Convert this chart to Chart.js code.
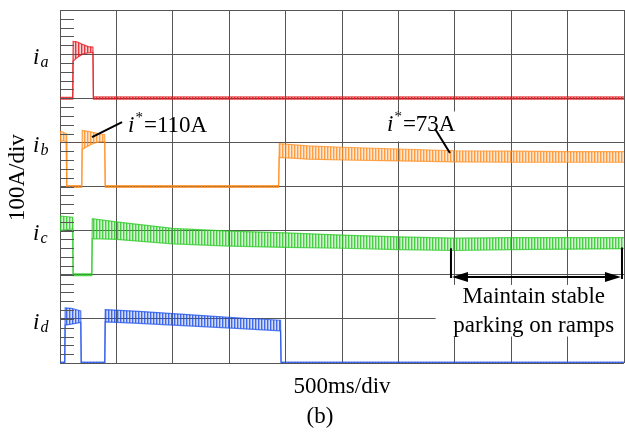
<!DOCTYPE html>
<html lang="en">
<head>
<meta charset="UTF-8">
<title>Phase currents</title>
<script src="https://cdn.jsdelivr.net/npm/chart.js@4"></script>
<style>
  html, body { margin: 0; padding: 0; background: #fff; }
  canvas { display: block; }
</style>
</head>
<body>
<canvas id="scope" width="625" height="432"></canvas>
<script>
// --- data: time in ms, current envelope (upper / lower) in A ---
const iaT  = [0, 113, 116, 150, 200, 250, 292, 296, 1000, 2000, 3000, 4000, 5000];
const iaHi = [2, 2, 129, 128, 122, 117, 116, 3, 3, 3, 3, 3, 3];
const iaLo = [-2, -2, 84, 92, 100, 103, 104, -2, -2, -2, -2, -2, -2];

const ibT  = [0, 20, 55, 60, 193, 197, 250, 300, 350, 396, 401, 1000, 1938, 1944, 2200, 2500, 3000, 3500, 4000, 4500, 5000];
const ibHi = [125, 124, 120, 2, 2, 127, 125, 122, 119, 118, 2, 2, 2, 97, 92, 89, 85, 81, 80, 79, 79];
const ibLo = [100, 104, 102, -2, -2, 84, 92, 98, 101, 102, -2, -2, -2, 66, 62, 60, 58, 56, 55, 55, 55];

const icT  = [0, 50, 113, 116, 282, 286, 500, 1000, 1500, 2000, 2500, 3000, 3500, 4000, 4500, 5000];
const icHi = [133, 132, 130, 2, 2, 127, 120, 105, 99, 95, 90, 86, 83, 84, 84, 84];
const icLo = [100, 102, 104, -2, -2, 82, 80, 70, 65, 62, 60, 57, 55, 57, 58, 59];

const idT  = [0, 42, 46, 100, 184, 188, 397, 401, 700, 1000, 1300, 1600, 1955, 1960, 5000];
const idHi = [2, 2, 125, 124, 118, 2, 2, 121, 117, 112, 107, 102, 97, 2, 2];
const idLo = [0, 0, 86, 88, 92, 0, 0, 93, 90, 86, 82, 78, 73, 0, 0];

// channel zero levels (in divisions from the bottom)
const channelNames = ['a', 'b', 'c', 'd'];
const channelZero  = [6, 4, 2, 0];

const ampsPerDiv = 100;
const msPerDiv = 500;

const serif = '"Liberation Serif", "DejaVu Serif", serif';

function pts(T, A, zero) {
    return T.map((t, i) => ({ x: t, y: zero + A[i] / ampsPerDiv }));
}

// hatched fill so the bands look like a rippled trace
function hatch(rgb) {
    const c = document.createElement('canvas');
    c.width = 3; c.height = 4;
    const g = c.getContext('2d');
    g.fillStyle = 'rgba(' + rgb + ',0.85)'; g.fillRect(0, 0, 1, 4);
    g.fillStyle = 'rgba(' + rgb + ',0.45)'; g.fillRect(1, 0, 1, 4);
    g.fillStyle = 'rgba(' + rgb + ',0.2)';  g.fillRect(2, 0, 1, 4);
    return g.createPattern(c, 'repeat');
}

function band(T, hi, lo, zero, rgb) {
    const edge = 'rgba(' + rgb + ',0.75)';
    return [
        { data: pts(T, lo, zero), borderColor: edge, borderWidth: 1.2, fill: false },
        { data: pts(T, hi, zero), borderColor: edge, borderWidth: 1.2, fill: '-1',
          backgroundColor: hatch(rgb) }
    ];
}

const datasets = [
    ...band(idT, idHi, idLo, channelZero[3], '30,80,232'),
    ...band(icT, icHi, icLo, channelZero[2], '40,200,35'),
    ...band(ibT, ibHi, ibLo, channelZero[1], '255,140,30'),
    ...band(iaT, iaHi, iaLo, channelZero[0], '225,22,28')
];

// text helper: runs of pieces with own size / style / shift
function drawRun(ctx, x, y, parts) {
    let cx = x;
    parts.forEach(p => {
        ctx.font = (p.italic ? 'italic ' : '') + p.size + 'px ' + serif;
        ctx.fillText(p.t, cx, y + (p.dy || 0));
        cx += ctx.measureText(p.t).width + (p.gap || 0);
    });
    return cx;
}

const scopeDecor = {
    id: 'scopeDecor',
    afterDatasetsDraw(chart) {
        const { ctx, chartArea: ca } = chart;
        const xs = chart.scales.x, ys = chart.scales.y;
        const X = v => xs.getPixelForValue(v), Y = v => ys.getPixelForValue(v);
        ctx.save();

        // minor ticks along the left edge, 5 per division
        ctx.strokeStyle = '#555';
        ctx.lineWidth = 1;
        for (let k = 0; k <= 40; k++) {
            const y = Math.round(Y(k / 5)) + 0.5;
            ctx.beginPath();
            ctx.moveTo(ca.left, y);
            ctx.lineTo(ca.left + 14, y);
            ctx.stroke();
        }

        ctx.fillStyle = '#000';
        ctx.textBaseline = 'alphabetic';
        ctx.textAlign = 'left';

        // channel labels i_a .. i_d
        channelNames.forEach((n, i) => {
            const y = Y(channelZero[i] + 0.78);
            drawRun(ctx, ca.left - 27, y, [
                { t: 'i', italic: true, size: 23, gap: 1 },
                { t: n, italic: true, size: 16, dy: 3 }
            ]);
        });

        // y label
        ctx.save();
        ctx.translate(ca.left - 36, Y(4.2));
        ctx.rotate(-Math.PI / 2);
        ctx.textAlign = 'center';
        ctx.font = '23px ' + serif;
        ctx.fillText('100A/div', 0, 0);
        ctx.restore();

        // i* = 110A
        ctx.strokeStyle = '#000';
        ctx.lineWidth = 2;
        ctx.beginPath();
        ctx.moveTo(X(550), Y(5.46));
        ctx.lineTo(X(284), Y(5.12));
        ctx.stroke();
        drawRun(ctx, X(603), Y(5.24), [
            { t: 'i', italic: true, size: 23, gap: 1 },
            { t: '*', size: 15, dy: -10, gap: 1 },
            { t: '=110A', size: 23 }
        ]);

        // i* = 73A (white box over the grid)
        ctx.fillStyle = '#fff';
        ctx.fillRect(X(2870), Y(5.7), X(3620) - X(2870), Y(5.02) - Y(5.7));
        ctx.fillStyle = '#000';
        drawRun(ctx, X(2899), Y(5.26), [
            { t: 'i', italic: true, size: 23, gap: 1 },
            { t: '*', size: 15, dy: -10, gap: 1 },
            { t: '=73A', size: 23 }
        ]);
        ctx.beginPath();
        ctx.moveTo(X(3324), Y(5.31));
        ctx.lineTo(X(3457), Y(4.76));
        ctx.stroke();

        // stable-parking span arrow
        const xa = X(3466), xb = X(4982), ya = Y(1.95);
        ctx.lineWidth = 2;
        ctx.beginPath();
        ctx.moveTo(xa, Y(2.6)); ctx.lineTo(xa, ya + 1);
        ctx.moveTo(xb, Y(2.62)); ctx.lineTo(xb, ya + 2);
        ctx.moveTo(xa + 10, ya); ctx.lineTo(xb - 10, ya);
        ctx.stroke();
        ctx.beginPath();
        ctx.moveTo(xa + 1, ya); ctx.lineTo(xa + 17, ya - 5); ctx.lineTo(xa + 17, ya + 5); ctx.closePath();
        ctx.moveTo(xb - 1, ya); ctx.lineTo(xb - 17, ya - 5); ctx.lineTo(xb - 17, ya + 5); ctx.closePath();
        ctx.fill();

        ctx.fillStyle = '#fff';
        ctx.fillRect(X(3330), Y(1.77), ca.right - X(3330), Y(0.6) - Y(1.77));
        ctx.fillStyle = '#000';
        ctx.textAlign = 'center';
        ctx.font = '23px ' + serif;
        ctx.fillText('Maintain stable', X(4200), Y(1.36));
        ctx.fillText('parking on ramps', X(4200), Y(0.70));

        // x label and caption
        ctx.fillText(msPerDiv + 'ms/div', (ca.left + ca.right) / 2, ca.bottom + 30);
        ctx.fillText('(b)', (ca.left + ca.right) / 2 - 22, ca.bottom + 60);

        ctx.restore();
    }
};

new Chart(document.getElementById('scope'), {
    type: 'line',
    data: { datasets },
    options: {
        responsive: false,
        animation: false,
        devicePixelRatio: 1,
        layout: { padding: { left: 60, top: 10, right: 1, bottom: 69 } },
        elements: { point: { radius: 0 }, line: { tension: 0 } },
        plugins: { legend: { display: false }, tooltip: { enabled: false } },
        scales: {
            x: {
                type: 'linear', min: 0, max: 10 * msPerDiv,
                ticks: { display: false, stepSize: msPerDiv },
                grid: { color: '#555', lineWidth: 1, drawTicks: false },
                border: { display: false }
            },
            y: {
                type: 'linear', min: 0, max: 8,
                ticks: { display: false, stepSize: 1 },
                grid: { color: '#555', lineWidth: 1, drawTicks: false },
                border: { display: false }
            }
        }
    },
    plugins: [scopeDecor]
});
</script>
</body>
</html>
